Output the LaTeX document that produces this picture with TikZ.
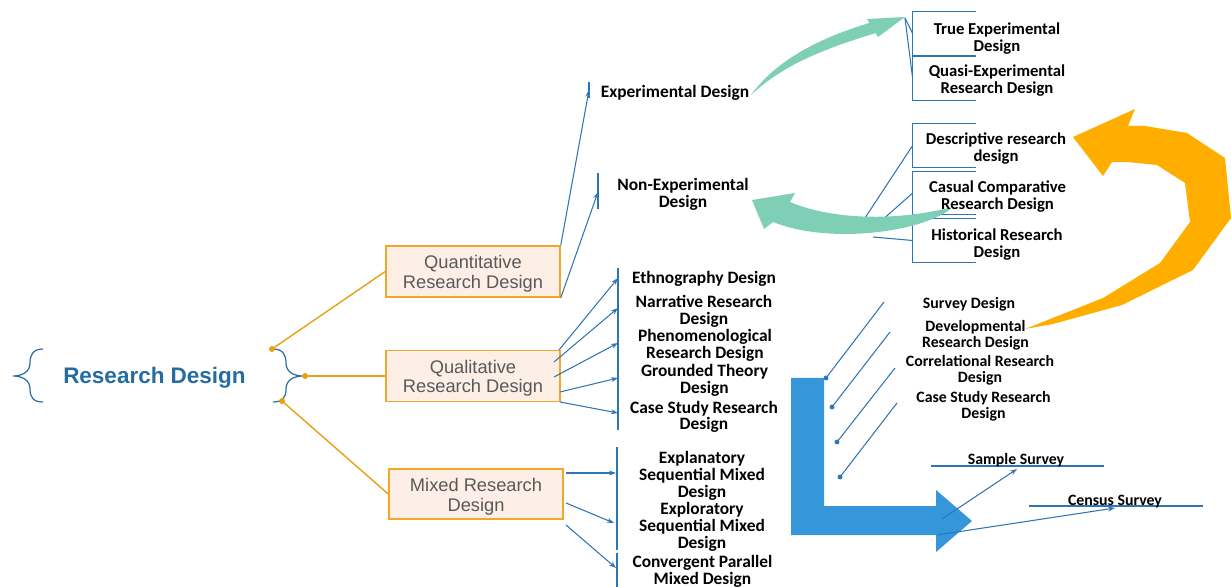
\documentclass[tikz,border=0pt]{standalone}
\usepackage{fontspec}
\setmainfont{Carlito}
\newfontfamily\arialf{Liberation Sans}
\usetikzlibrary{arrows.meta}
\definecolor{lnblue}{RGB}{46,117,182}
\definecolor{brblue}{RGB}{44,110,166}
\definecolor{ttlblue}{RGB}{37,108,163}
\definecolor{orln}{RGB}{232,160,20}
\definecolor{boxfill}{RGB}{253,239,229}
\definecolor{boxedge}{RGB}{240,168,40}
\definecolor{tealarrow}{RGB}{127,206,182}
\definecolor{orfill}{RGB}{255,174,0}
\definecolor{lblue}{RGB}{53,151,217}
\definecolor{grtext}{RGB}{89,89,89}
\tikzset{
  catbox/.style={draw=boxedge, line width=0.9pt, fill=boxfill, minimum width=3.48cm,
    minimum height=1.02cm, inner sep=0pt},
  boxlbl/.style={align=center, inner sep=0pt, text=grtext, yshift=-1.3pt,
    font=\arialf\fontsize{10.4}{11.3}\selectfont},
  midtxt/.style={align=center, inner sep=0pt, yshift=-1.1pt, font=\bfseries\fontsize{9.9}{9.6}\selectfont},
  sidetxt/.style={align=center, inner sep=0pt, yshift=-1.1pt, font=\bfseries\fontsize{9.5}{9.6}\selectfont},
  srvtxt/.style={align=center, inner sep=0pt, yshift=-0.8pt, font=\bfseries\fontsize{9}{9.1}\selectfont},
  conn/.style={draw=lnblue, line width=0.6pt},
  arrowed/.style={conn, -{Stealth[length=4pt,width=2.8pt]}},
  orconn/.style={draw=orln, line width=0.8pt},
  bracketbox/.style={minimum width=1.26cm, inner sep=0pt},
  dotmark/.style={fill=lnblue},
}
\begin{document}
\begin{tikzpicture}[x=0.02cm,y=-0.02cm]
\useasboundingbox (0,0) rectangle (1231,587);

% ---- title with braces
\node[font=\arialf\bfseries\fontsize{12.8}{15}\selectfont, text=ttlblue, yshift=-0.6pt] (title) at (154.5,377) {Research Design};
\draw[brblue, line width=0.7pt] (43,349) .. controls (33,349) and (30,355) .. (30,363)
  .. controls (30,372) and (22,376) .. (13,376)
  .. controls (22,376) and (30,380) .. (30,389)
  .. controls (30,397) and (33,402) .. (43,402);
\draw[brblue, line width=0.7pt] (273,349) .. controls (283,349) and (286,355) .. (286,363)
  .. controls (286,372) and (294,376) .. (303,376)
  .. controls (294,376) and (286,380) .. (286,389)
  .. controls (286,397) and (283,402) .. (273,402);
\coordinate (d1) at (272,349);
\coordinate (d2) at (305,376);
\coordinate (d3) at (282,401);

% ---- category boxes
\node[catbox, label={[boxlbl]center:Quantitative\\Research Design}] (quant) at (473,271.5) {};
\node[catbox, label={[boxlbl]center:Qualitative\\Research Design}] (qual) at (473,376) {};
\node[catbox, minimum height=1.0cm, label={[boxlbl, yshift=-0.4pt]center:Mixed Research\\Design}] (mixed) at (476,494) {};

\draw[orconn] (d1) -- (quant.west);
\draw[orconn] (d2) -- (qual.west);
\draw[orconn] (d3) -- (mixed.west);
\fill[orln] (d1) circle (1.7pt) (d2) circle (1.7pt) (d3) circle (1.7pt);

% ---- blue L-shaped arrow
\fill[lblue] (791,378) -- (824,378) -- (824,506) -- (936,506) -- (936,490) -- (972,521)
  -- (936,552) -- (936,535) -- (791,535) -- cycle;

% ---- orange curled arrow
\fill[orfill] (1025,329) -- (1103,298) -- (1160,263) -- (1190,222) -- (1185,183) -- (1157,165)
  -- (1127,162) -- (1112,162) -- (1103,176) -- (1073,137) -- (1135,109) -- (1128,126)
  -- (1145,126) -- (1187,133) -- (1225,158) -- (1231,218) -- (1193,270) -- (1122,305)
  -- (1053,324) -- cycle;

% ---- quantitative branches
\coordinate (expbarT) at (589,82);
\coordinate (expbarB) at (589,98);
\coordinate (expbar) at (589,90);
\coordinate (nexbarT) at (598,173);
\coordinate (nexbarB) at (598,209);
\coordinate (nexbar) at (598,192);
\draw[conn] (expbarT) -- (expbarB);
\draw[conn] (nexbarT) -- (nexbarB);
\draw[arrowed] (quant.north east) -- (expbar);
\draw[arrowed] (quant.south east) -- (nexbar);

% ---- qualitative branches
\coordinate (qlbarT) at (618,268);
\coordinate (qlbarB) at (618,430);
\draw[conn] (qlbarT) -- (qlbarB);
\coordinate (qs1) at (559,350); \coordinate (qe1) at (618,278);
\coordinate (qs2) at (554,362); \coordinate (qe2) at (618,308);
\coordinate (qs3) at (554,377); \coordinate (qe3) at (618,343);
\coordinate (qs4) at (560,392); \coordinate (qe4) at (618,378);
\coordinate (qs5) at (560,402); \coordinate (qe5) at (618,413);
\foreach \i in {1,...,5} { \draw[arrowed] (qs\i) -- (qe\i); }

% ---- mixed branches
\coordinate (mxbarT) at (617,447);
\coordinate (mxbarB) at (617,550);
\coordinate (mxbarCT) at (617,553);
\coordinate (mxbarCB) at (617,587);
\draw[conn] (mxbarT) -- (mxbarB);
\draw[conn] (mxbarCT) -- (mxbarCB);
\coordinate (ms1) at (566,473); \coordinate (me1) at (616,473);
\coordinate (ms2) at (566,503); \coordinate (me2) at (614,523);
\coordinate (ms3) at (566,525); \coordinate (me3) at (616,568);
\foreach \i in {1,2,3} { \draw[arrowed] (ms\i) -- (me\i); }

% ---- open brackets on the right
\node[bracketbox, minimum height=0.86cm] (b1) at (944.5,33.5) {};
\node[bracketbox, minimum height=0.86cm] (b2) at (944.5,78.5) {};
\node[bracketbox, minimum height=0.86cm] (b3) at (944.5,145.5) {};
\node[bracketbox, minimum height=0.84cm] (b4) at (944.5,193) {};
\node[bracketbox, minimum height=0.86cm] (b5) at (944.5,240.5) {};
\foreach \b in {b1,b2,b3,b4,b5} {
  \draw[conn] (\b.north east) -- (\b.north west) -- (\b.south west) -- (\b.south east);
}
\coordinate (fanA) at (905,18);
\draw[conn] (fanA) -- (b1.west);
\draw[conn] (fanA) -- (b2.west);
\coordinate (fanB1) at (863,221);
\coordinate (fanB2) at (880,222);
\coordinate (fanB3) at (873,237);
\draw[conn] (fanB1) -- (b3.west);
\draw[conn] (fanB2) -- (b4.west);
\draw[conn] (fanB3) -- (b5.west);

% ---- survey family lines
\coordinate (sd1) at (826,378); \coordinate (se1) at (884,302);
\coordinate (sd2) at (832,407); \coordinate (se2) at (890,332);
\coordinate (sd3) at (837,442); \coordinate (se3) at (895,368);
\coordinate (sd4) at (840,477); \coordinate (se4) at (897,403);
\foreach \i in {1,...,4} {
  \draw[conn] (sd\i) -- (se\i);
  \fill[dotmark] (sd\i) circle (1.4pt);
}

% ---- sample / census
\coordinate (smpL) at (931,466); \coordinate (smpR) at (1104,466);
\coordinate (cnsL) at (1029,506); \coordinate (cnsR) at (1203,506);
\draw[conn] (smpL) -- (smpR);
\draw[conn] (cnsL) -- (cnsR);
\coordinate (ss) at (942,519); \coordinate (st) at (1017,469);
\coordinate (cs) at (937,535); \coordinate (ct) at (1115,508);
\draw[arrowed] (ss) -- (st);
\draw[arrowed] (cs) -- (ct);

% ---- teal curved arrows
\fill[tealarrow] (751,95) .. controls (780,55) and (830,35) .. (869.4,22.9)
  -- (867,19) -- (905,17) -- (878,37) -- (875.6,33.1)
  .. controls (830,47) and (785,63) .. (751,95) -- cycle;
\fill[tealarrow] (953,207) .. controls (880,225) and (820,215) .. (790,202)
  -- (795,193) -- (752,200) -- (764,229) -- (773,222)
  .. controls (830,245) and (925,232) .. (953,207) -- cycle;

% ---- labels
\node[midtxt] (expd) at (675,91) {Experimental Design};
\node[midtxt] (nexd) at (683,192.5) {Non-Experimental\\Design};
\node[midtxt] (eth) at (704,277) {Ethnography Design};
\node[midtxt] (narr) at (704,309) {Narrative Research\\Design};
\node[midtxt] (phen) at (705,343.5) {Phenomenological\\Research Design};
\node[midtxt] (grnd) at (704.5,378.5) {Grounded Theory\\Design};
\node[midtxt] (csq) at (704,415) {Case Study Research\\Design};
\node[midtxt] (expl) at (702,474) {Explanatory\\Sequential Mixed\\Design};
\node[midtxt] (expr) at (702,525) {Exploratory\\Sequential Mixed\\Design};
\node[midtxt] (conv) at (702.5,569.5) {Convergent Parallel\\Mixed Design};

\node[sidetxt] (truex) at (997,36.5) {True Experimental\\Design};
\node[sidetxt] (quasi) at (997,79) {Quasi-Experimental\\Research Design};
\node[sidetxt] (desc) at (996,147) {Descriptive research\\design};
\node[sidetxt] (casual) at (997.5,195) {Casual Comparative\\Research Design};
\node[sidetxt] (hist) at (997,243) {Historical Research\\Design};

\node[srvtxt] (surv) at (969,303) {Survey Design};
\node[srvtxt] (devel) at (975.5,334) {Developmental\\Research Design};
\node[srvtxt] (corr) at (980,369) {Correlational Research\\Design};
\node[srvtxt] (csv) at (983.5,405) {Case Study Research\\Design};
\node[srvtxt] (sample) at (1016,459) {Sample Survey};
\node[srvtxt] (census) at (1115,500) {Census Survey};
\end{tikzpicture}
\end{document}
